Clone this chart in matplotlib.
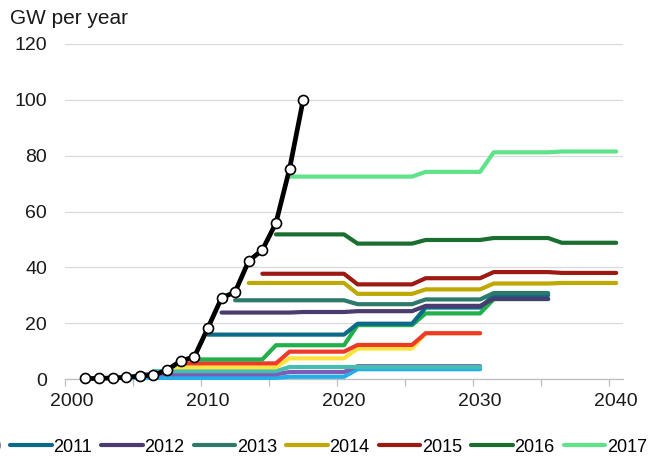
import matplotlib
matplotlib.use("Agg")
import matplotlib.pyplot as plt
from matplotlib.lines import Line2D
from matplotlib.ticker import FixedLocator
import numpy as np

plt.rcParams['font.family'] = ['Liberation Sans', 'DejaVu Sans']

# ---- data ----
actual_years = [2001, 2002, 2003, 2004, 2005, 2006, 2007, 2008, 2009,
                2010, 2011, 2012, 2013, 2014, 2015, 2016, 2017]
actual_vals = [0.2, 0.2, 0.4, 0.6, 1.1, 1.4, 3.2, 6.5, 7.9,
               18.3, 29.0, 31.2, 42.3, 46.2, 55.9, 75.3, 100.0]

# each outlook: first year of its line and its yearly values
p2005_start = 2004
p2005 = [0.4, 0.4, 0.4, 0.4, 0.4, 0.4, 0.4, 0.4, 0.4, 0.4, 0.4, 0.4,
         0.8, 0.8, 0.8, 0.8, 0.8,
         3.5, 3.5, 3.5, 3.5, 3.5, 3.5, 3.5, 3.5, 3.5, 3.5]
p2006_start = 2005
p2006 = [1.7, 1.7, 1.7, 1.7, 1.7, 1.7, 1.7, 1.7, 1.7, 1.7, 1.7,
         2.5, 2.5, 2.5, 2.5, 2.5,
         4.6, 4.6, 4.6, 4.6, 4.6, 4.6, 4.6, 4.6, 4.6, 4.6]
p2007_start = 2006
p2007 = [2.8, 2.8, 2.8, 2.8, 2.8, 2.8, 2.8, 2.8, 2.8, 2.8,
         4.3, 4.3, 4.3, 4.3, 4.3, 4.3, 4.3, 4.3, 4.3, 4.3,
         4.3, 4.3, 4.3, 4.3, 4.3]
p2008_start = 2007
p2008 = [4.2, 4.2, 4.2, 4.2, 4.2, 4.2, 4.2, 4.2, 4.2,
         7.4, 7.4, 7.4, 7.4, 7.4,
         10.9, 10.9, 10.9, 10.9, 10.9,
         16.4, 16.4, 16.4, 16.4, 16.4]
p2009_start = 2008
p2009 = [5.6, 5.6, 5.6, 5.6, 5.6, 5.6, 5.6, 5.6,
         9.8, 9.8, 9.8, 9.8, 9.8,
         12.2, 12.2, 12.2, 12.2, 12.2,
         16.4, 16.4, 16.4, 16.4, 16.4]
p2010_start = 2009
p2010 = [7.0, 7.0, 7.0, 7.0, 7.0, 7.0,
         12.1, 12.1, 12.1, 12.1, 12.1, 12.1,
         19.3, 19.3, 19.3, 19.3, 19.3,
         23.5, 23.5, 23.5, 23.5, 23.5,
         28.6, 28.6, 28.6, 28.6, 28.6]
p2011_start = 2010
p2011 = [15.9, 15.9, 15.9, 15.9, 15.9, 15.9, 15.9, 15.9, 15.9, 15.9, 15.9,
         19.8, 19.8, 19.8, 19.8, 19.8,
         25.6, 25.6, 25.6, 25.6, 25.6,
         30.0, 30.0, 30.0, 30.0, 30.0]
p2012_start = 2011
p2012 = [23.8, 23.8, 23.8, 23.8, 23.8, 23.8,
         24.0, 24.0, 24.0, 24.0,
         24.3, 24.3, 24.3, 24.3, 24.3,
         26.2, 26.2, 26.2, 26.2, 26.2,
         28.7, 28.7, 28.7, 28.7, 28.7]
p2013_start = 2012
p2013 = [28.2, 28.2, 28.2, 28.2, 28.2, 28.2, 28.2, 28.2, 28.2,
         26.8, 26.8, 26.8, 26.8, 26.8,
         28.5, 28.5, 28.5, 28.5, 28.5,
         30.8, 30.8, 30.8, 30.8, 30.8]
p2014_start = 2013
p2014 = [34.4, 34.4, 34.4, 34.4, 34.4, 34.4, 34.4, 34.4,
         30.5, 30.5, 30.5, 30.5, 30.5,
         32.1, 32.1, 32.1, 32.1, 32.1,
         34.2, 34.2, 34.2, 34.2, 34.2,
         34.4, 34.4, 34.4, 34.4, 34.4]
p2015_start = 2014
p2015 = [37.7, 37.7, 37.7, 37.7, 37.7, 37.7, 37.7,
         33.9, 33.9, 33.9, 33.9, 33.9,
         36.1, 36.1, 36.1, 36.1, 36.1,
         38.3, 38.3, 38.3, 38.3, 38.3,
         38.0, 38.0, 38.0, 38.0, 38.0]
p2016_start = 2015
p2016 = [51.8, 51.8, 51.8, 51.8, 51.8, 51.8,
         48.5, 48.5, 48.5, 48.5, 48.5,
         49.8, 49.8, 49.8, 49.8, 49.8,
         50.5, 50.5, 50.5, 50.5, 50.5,
         48.8, 48.8, 48.8, 48.8, 48.8]
p2017_start = 2016
p2017 = [72.5, 72.5, 72.5, 72.5, 72.5, 72.5, 72.5, 72.5, 72.5, 72.5,
         74.2, 74.2, 74.2, 74.2, 74.2,
         81.2, 81.2, 81.2, 81.2, 81.2,
         81.5, 81.5, 81.5, 81.5, 81.5]

series_labels = ['2005', '2006', '2007', '2008', '2009', '2010', '2011',
                 '2012', '2013', '2014', '2015', '2016', '2017']
series_starts = [p2005_start, p2006_start, p2007_start, p2008_start, p2009_start,
                 p2010_start, p2011_start, p2012_start, p2013_start, p2014_start,
                 p2015_start, p2016_start, p2017_start]
series_values = [p2005, p2006, p2007, p2008, p2009, p2010, p2011,
                 p2012, p2013, p2014, p2015, p2016, p2017]
series_colors = ['#22AEE8', '#7E5BB4', '#45BEB0', '#FFE23C', '#EE3A2A',
                 '#22B04B', '#0A6A88', '#4A3B70', '#2E7A6A', '#BFA800',
                 '#9C1A12', '#1A6E30', '#5EE38A']
legend_labels = ['2010', '2011', '2012', '2013', '2014', '2015', '2016', '2017']

y_ticks = [0, 20, 40, 60, 80, 100, 120]
x_tick_labels = ['2000', '2010', '2020', '2030', '2040']

# ---- figure ----
fig = plt.figure(figsize=(6.52, 4.59), dpi=100)
W, H = 652, 459
ax = fig.add_axes([65 / W, 1 - 379 / H, (623 - 65) / W, (379 - 44) / H])

lw = 3.0
handle_map = {}
for lab, st, vals, col in zip(series_labels, series_starts, series_values, series_colors):
    xs = np.arange(st, st + len(vals))
    ax.plot(xs, vals, color=col, lw=lw, solid_capstyle='round',
            solid_joinstyle='round', clip_on=False, zorder=3)
    handle_map[lab] = Line2D([], [], color=col, lw=lw, solid_capstyle='round')

ax.plot(actual_years, actual_vals, color='black', lw=3.4, marker='o',
        markersize=7.2, markerfacecolor='white', markeredgecolor='black',
        markeredgewidth=1.2, clip_on=False, zorder=5)

ax.set_xlim(1999.5, 2040.5)
ax.set_ylim(0, 120)

ax.set_yticks(y_ticks)
ax.set_yticklabels([str(v) for v in y_ticks])
ax.set_xticks([int(s) for s in x_tick_labels])
ax.set_xticklabels(x_tick_labels)
ax.xaxis.set_minor_locator(FixedLocator(np.arange(1999.5, 2041, 5)))

ax.tick_params(axis='y', length=0, pad=13, labelsize=14, labelcolor='#1a1a1a')
ax.tick_params(axis='x', which='major', length=0, pad=10, labelsize=14,
               labelcolor='#1a1a1a')
ax.tick_params(axis='x', which='minor', length=5, width=0.9, color='#bfbfbf',
               direction='out')

ax.grid(axis='y', color='#d9d9d9', lw=0.9, zorder=0)
ax.set_axisbelow(True)
for s in ['left', 'right', 'top']:
    ax.spines[s].set_visible(False)
ax.spines['bottom'].set_color('#bfbfbf')
ax.spines['bottom'].set_linewidth(0.9)

fig.text(10 / W, 1 - 18 / H, 'GW per year', fontsize=15, color='#1a1a1a',
         ha='left', va='center')

fig.legend([handle_map[l] for l in legend_labels], legend_labels, loc='center right',
           bbox_to_anchor=(647 / W, 1 - 447 / H), ncol=len(legend_labels),
           frameon=False, fontsize=13, handlelength=2.28, handletextpad=0.1,
           columnspacing=0.52, borderpad=0, borderaxespad=0)

fig.savefig('out.png', dpi=100)
